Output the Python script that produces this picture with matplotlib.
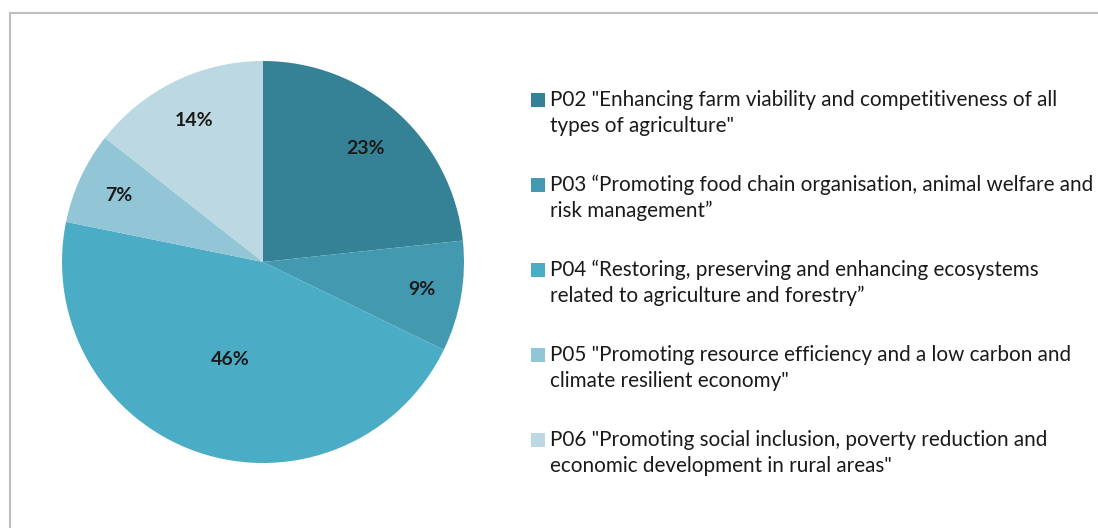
import numpy as np
import matplotlib.pyplot as plt
from matplotlib.lines import Line2D
from matplotlib.patches import Rectangle

# Shares per priority (in %)
labels = ['P02 "Enhancing farm viability and competitiveness of all\ntypes of agriculture"',
          'P03 \u201cPromoting food chain organisation, animal welfare and\nrisk management\u201d',
          'P04 \u201cRestoring, preserving and enhancing ecosystems\nrelated to agriculture and forestry\u201d',
          'P05 "Promoting resource efficiency and a low carbon and\nclimate resilient economy"',
          'P06 "Promoting social inclusion, poverty reduction and\neconomic development in rural areas"']
shares = [23.3, 8.9, 46.0, 7.4, 14.4]
colors = ['#358296', '#4399B0', '#4BACC6', '#92C5D6', '#BCD8E3']
label_radius = [0.76, 0.80, 0.51, 0.79, 0.78]

plt.rcParams['font.family'] = ['Lato', 'DejaVu Sans']

W, H = 1098, 528
fig = plt.figure(figsize=(W / 100, H / 100), dpi=100)

# pie axes: center (263, 262), radius 201 px
cx, cy, r = 263, 262, 201
ax = fig.add_axes([(cx - r) / W, (H - cy - r) / H, 2 * r / W, 2 * r / H])
wedges, _ = ax.pie(shares, colors=colors, startangle=90, counterclock=False,
                   radius=1, wedgeprops=dict(linewidth=0))
ax.set_xlim(-1, 1)
ax.set_ylim(-1, 1)
ax.set_aspect('equal')
ax.axis('off')

for w, s, rr in zip(wedges, shares, label_radius):
    ang = np.deg2rad((w.theta1 + w.theta2) / 2)
    ax.text(rr * np.cos(ang), rr * np.sin(ang), '{:.0f}%'.format(s),
            ha='center', va='center', fontsize=14, fontweight='bold', color='#1a1a1a')

# legend drawn by hand
x_box, x_txt = 531, 550
y0, step, line_gap = 100, 85, 26
for i, (lab, col) in enumerate(zip(labels, colors)):
    y = y0 + i * step
    fig.add_artist(Rectangle((x_box / W, 1 - (y + 7) / H), 14 / W, 14 / H,
                             transform=fig.transFigure, facecolor=col, edgecolor='none'))
    for j, line in enumerate(lab.split('\n')):
        fig.text(x_txt / W, 1 - (y + j * line_gap) / H, line, fontsize=14.9,
                 ha='left', va='center', color='#1a1a1a')

# chart border (top and left visible)
fig.add_artist(Line2D([10 / W, 1], [1 - 13 / H, 1 - 13 / H], transform=fig.transFigure,
                      color='#BFBFBF', linewidth=1.5))
fig.add_artist(Line2D([10 / W, 10 / W], [0, 1 - 13 / H], transform=fig.transFigure,
                      color='#BFBFBF', linewidth=1.5))

fig.savefig('out.png', dpi=100)
